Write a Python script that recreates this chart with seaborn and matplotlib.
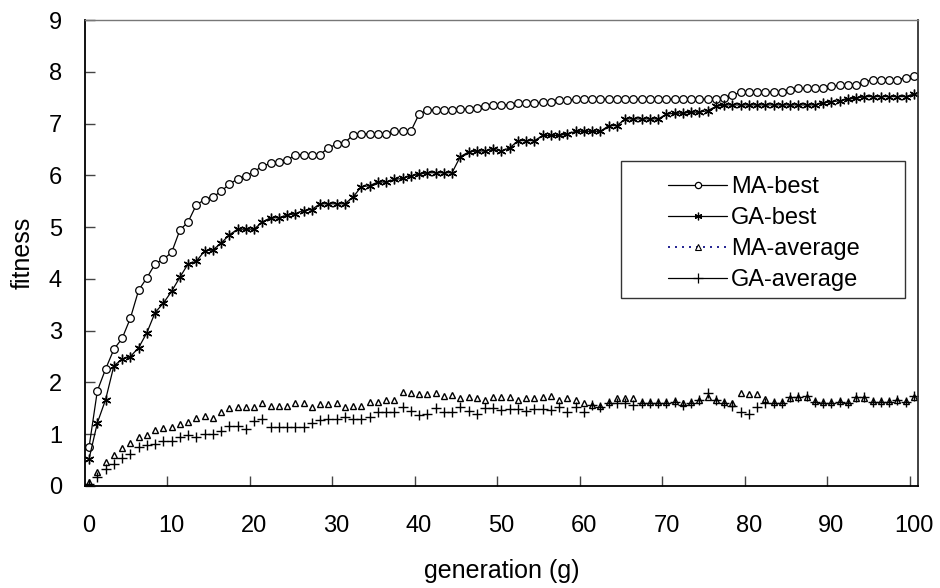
import matplotlib
matplotlib.use("Agg")
import matplotlib.pyplot as plt
import seaborn as sns
import pandas as pd
from matplotlib.lines import Line2D
from matplotlib.patches import Rectangle
from matplotlib.ticker import FixedLocator

# ---------------- data ----------------
generations = list(range(0, 101))

ma_best = [0.76, 1.84, 2.26, 2.64, 2.85, 3.24, 3.78, 4.02, 4.29, 4.38,
           4.51, 4.94, 5.10, 5.43, 5.53, 5.58, 5.69, 5.83, 5.93, 5.99,
           6.07, 6.18, 6.23, 6.26, 6.29, 6.40, 6.40, 6.40, 6.40, 6.53,
           6.60, 6.63, 6.78, 6.80, 6.80, 6.80, 6.80, 6.85, 6.85, 6.85,
           7.18, 7.26, 7.26, 7.26, 7.26, 7.28, 7.28, 7.31, 7.34, 7.36,
           7.36, 7.36, 7.39, 7.39, 7.39, 7.42, 7.42, 7.45, 7.45, 7.47,
           7.47, 7.47, 7.47, 7.47, 7.47, 7.47, 7.47, 7.47, 7.47, 7.47,
           7.47, 7.47, 7.47, 7.47, 7.47, 7.47, 7.47, 7.49, 7.55, 7.60,
           7.61, 7.61, 7.61, 7.61, 7.61, 7.65, 7.68, 7.68, 7.68, 7.68,
           7.72, 7.74, 7.74, 7.74, 7.80, 7.85, 7.85, 7.85, 7.85, 7.88,
           7.92]

ga_best = [0.53, 1.22, 1.67, 2.32, 2.45, 2.50, 2.67, 2.96, 3.35, 3.53,
           3.76, 4.03, 4.29, 4.34, 4.54, 4.56, 4.69, 4.85, 4.96, 4.96,
           4.96, 5.10, 5.18, 5.18, 5.23, 5.26, 5.32, 5.34, 5.45, 5.45,
           5.45, 5.45, 5.58, 5.78, 5.80, 5.87, 5.87, 5.92, 5.94, 5.99,
           6.02, 6.05, 6.05, 6.05, 6.05, 6.36, 6.45, 6.47, 6.47, 6.50,
           6.47, 6.53, 6.67, 6.67, 6.67, 6.77, 6.77, 6.77, 6.80, 6.85,
           6.85, 6.85, 6.85, 6.96, 6.96, 7.09, 7.09, 7.09, 7.09, 7.09,
           7.18, 7.20, 7.20, 7.22, 7.22, 7.25, 7.33, 7.36, 7.36, 7.36,
           7.36, 7.36, 7.36, 7.36, 7.36, 7.36, 7.36, 7.36, 7.36, 7.40,
           7.42, 7.44, 7.47, 7.49, 7.52, 7.52, 7.52, 7.52, 7.52, 7.52,
           7.57]

ma_average = [0.08, 0.27, 0.46, 0.59, 0.73, 0.84, 0.95, 0.98, 1.08, 1.12,
              1.13, 1.20, 1.24, 1.31, 1.36, 1.31, 1.43, 1.50, 1.52, 1.52,
              1.52, 1.61, 1.54, 1.54, 1.54, 1.60, 1.60, 1.53, 1.58, 1.58,
              1.60, 1.53, 1.55, 1.55, 1.62, 1.63, 1.66, 1.67, 1.82, 1.80,
              1.77, 1.77, 1.79, 1.74, 1.76, 1.69, 1.72, 1.69, 1.67, 1.72,
              1.72, 1.72, 1.66, 1.69, 1.69, 1.72, 1.74, 1.67, 1.69, 1.67,
              1.60, 1.57, 1.55, 1.62, 1.69, 1.70, 1.70, 1.62, 1.62, 1.63,
              1.62, 1.64, 1.60, 1.62, 1.66, 1.72, 1.66, 1.62, 1.60, 1.79,
              1.77, 1.77, 1.68, 1.62, 1.63, 1.70, 1.72, 1.72, 1.64, 1.62,
              1.62, 1.64, 1.63, 1.70, 1.70, 1.64, 1.65, 1.64, 1.66, 1.64,
              1.72]

ga_average = [0.03, 0.18, 0.32, 0.42, 0.55, 0.62, 0.76, 0.79, 0.81, 0.87,
              0.87, 0.94, 0.98, 0.94, 1.00, 1.00, 1.07, 1.16, 1.16, 1.11,
              1.26, 1.29, 1.13, 1.13, 1.13, 1.13, 1.13, 1.22, 1.27, 1.29,
              1.29, 1.34, 1.29, 1.29, 1.34, 1.42, 1.42, 1.42, 1.52, 1.45,
              1.37, 1.40, 1.50, 1.42, 1.43, 1.53, 1.45, 1.40, 1.50, 1.50,
              1.47, 1.48, 1.48, 1.45, 1.48, 1.48, 1.47, 1.53, 1.43, 1.53,
              1.43, 1.56, 1.53, 1.60, 1.60, 1.60, 1.56, 1.60, 1.60, 1.61,
              1.61, 1.63, 1.56, 1.60, 1.66, 1.79, 1.66, 1.60, 1.54, 1.43,
              1.40, 1.53, 1.61, 1.60, 1.61, 1.72, 1.72, 1.74, 1.63, 1.61,
              1.60, 1.63, 1.61, 1.72, 1.72, 1.63, 1.63, 1.63, 1.66, 1.63,
              1.74]

series_labels = ["MA-best", "GA-best", "MA-average", "GA-average"]
x_tick_values = list(range(0, 101, 10))
y_tick_values = list(range(0, 10))

df = pd.DataFrame({"generation": generations, "MA-best": ma_best,
                   "GA-best": ga_best, "MA-average": ma_average,
                   "GA-average": ga_average})

# ---------------- style ----------------
sns.set_theme(style="white")
plt.rcParams["font.family"] = ["Liberation Sans", "DejaVu Sans"]

W, H = 940, 588
fig = plt.figure(figsize=(W / 100, H / 100), dpi=100)
ax = fig.add_axes([85 / W, 1 - 486 / H, 833 / W, 466 / H])

asterisk = (6, 2, 0)

sns.lineplot(data=df, x="generation", y="MA-best", ax=ax, color="black",
             lw=0.9, marker="o", markersize=5.5, markerfacecolor="white",
             markeredgecolor="black", markeredgewidth=0.9)
sns.lineplot(data=df, x="generation", y="GA-best", ax=ax, color="black",
             lw=0.9, marker=asterisk, markersize=7,
             markeredgecolor="black", markeredgewidth=1.0)
sns.lineplot(data=df, x="generation", y="MA-average", ax=ax, color="black",
             linestyle="none", marker="^", markersize=5,
             markerfacecolor="white", markeredgecolor="black",
             markeredgewidth=1.0)
sns.lineplot(data=df, x="generation", y="GA-average", ax=ax, color="black",
             linestyle="none", marker="+", markersize=7.5,
             markeredgecolor="black", markeredgewidth=1.0)

ax.set_xlim(-0.5, 100.5)
ax.set_ylim(0, 9)

ax.set_xticks(x_tick_values)
ax.set_xticklabels([str(v) for v in x_tick_values])
ax.xaxis.set_minor_locator(FixedLocator([9.5 + 10 * k for k in range(10)]))
ax.tick_params(axis="x", which="major", length=0, pad=21,
               labelsize=17, labelcolor="black")
ax.tick_params(axis="x", which="minor", direction="in", length=7,
               width=1, color="#444444", bottom=True)

ax.set_yticks(y_tick_values)
ax.set_yticklabels([str(v) for v in y_tick_values])
ax.tick_params(axis="y", which="major", direction="in", length=7,
               width=1, color="#444444", pad=16.5, labelsize=17,
               labelcolor="black", left=True)

ax.set_xlabel("generation (g)", fontsize=18, labelpad=16, color="black")
ax.set_ylabel("fitness", fontsize=18, labelpad=10, color="black")

for side in ["left", "bottom"]:
    ax.spines[side].set_color("black")
    ax.spines[side].set_linewidth(1.3)
ax.spines["right"].set_color("#333333")
ax.spines["right"].set_linewidth(1.3)
ax.spines["top"].set_color("#777777")
ax.spines["top"].set_linewidth(1.0)
ax.grid(False)

# ---------------- legend ----------------
handles = [
    Line2D([], [], color="black", lw=0.9, marker="o", markersize=4.5,
           markerfacecolor="white", markeredgecolor="black",
           markeredgewidth=0.9),
    Line2D([], [], color="black", lw=0.9, marker=asterisk, markersize=5.5,
           markeredgecolor="black", markeredgewidth=0.9),
    Line2D([], [], color="#000080", lw=1.2, linestyle=(0, (1.2, 3.0)),
           marker="^", markersize=4.5, markerfacecolor="white",
           markeredgecolor="black", markeredgewidth=0.8),
    Line2D([], [], color="black", lw=0.9, marker="+", markersize=6.5,
           markeredgecolor="black", markeredgewidth=0.9),
]
leg = ax.legend(handles, series_labels, loc="center",
                bbox_to_anchor=(764 / W, 1 - 233.5 / H),
                bbox_transform=fig.transFigure, frameon=False, fontsize=17,
                handlelength=2.5, handletextpad=0.15, labelspacing=0.38,
                borderpad=0, numpoints=1)
for t in leg.get_texts():
    t.set_color("black")

frame = Rectangle((621 / W, 1 - 298 / H), 284 / W, 137 / H,
                  transform=fig.transFigure, fill=False,
                  edgecolor="#333333", lw=1.0, zorder=10)
fig.add_artist(frame)

fig.savefig("out.png", dpi=100, facecolor="white")
